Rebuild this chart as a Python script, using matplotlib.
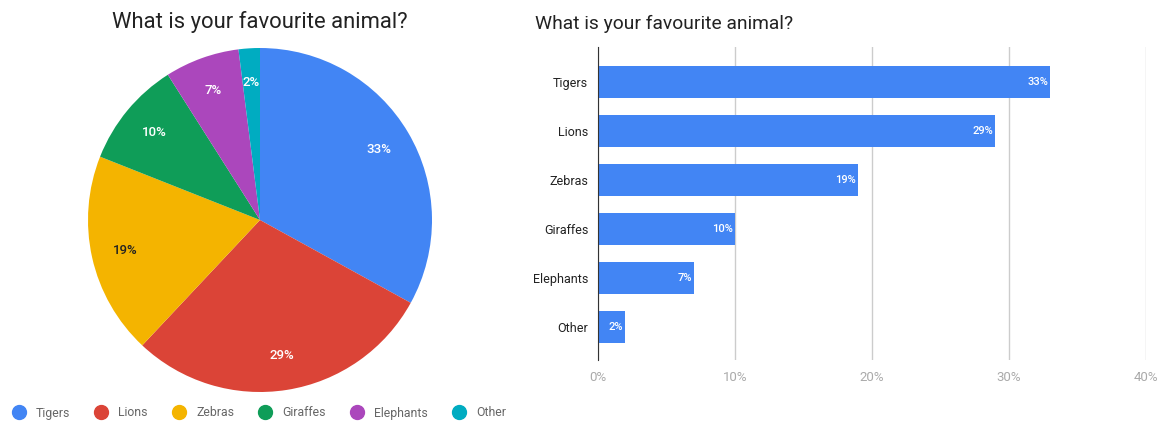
import numpy as np
import matplotlib.pyplot as plt
from matplotlib.lines import Line2D

# survey results
animals = ["Tigers", "Lions", "Zebras", "Giraffes", "Elephants", "Other"]
shares = [33, 29, 19, 10, 7, 2]
colors = ["#4285F4", "#DB4437", "#F4B400", "#0F9D58", "#AB47BC", "#00ACC1"]
xticks = [0, 10, 20, 30, 40]

plt.rcParams["font.family"] = ["Roboto", "DejaVu Sans"]

fig = plt.figure(figsize=(11.6, 4.21), dpi=100)

# %% pie on the left
ax1 = fig.add_axes([88 / 1160, 29 / 421, 344 / 1160, 344 / 421])
wedges, _ = ax1.pie(shares, colors=colors, startangle=90, counterclock=False,
                    wedgeprops=dict(linewidth=0))
for w, s, c in zip(wedges, shares, colors):
    ang = np.deg2rad((w.theta1 + w.theta2) / 2)
    tc = "#222222" if c == "#F4B400" else "white"
    ax1.text(0.8 * np.cos(ang), 0.8 * np.sin(ang), f"{s}%", ha="center",
             va="center", fontsize=9.5, color=tc, fontweight="medium")
ax1.set_xlim(-1, 1)
ax1.set_ylim(-1, 1)
fig.text(260 / 1160, 1 - 22 / 421, "What is your favourite animal?", ha="center",
         va="center", fontsize=15.8, color="#222222")

handles = [Line2D([], [], marker="o", linestyle="", markersize=10, color=c)
           for c in colors]
fig.legend(handles, animals, loc="center left", bbox_to_anchor=(0.0035, 1 - 413 / 421),
           ncol=6, frameon=False, fontsize=8.8, labelcolor="#666666",
           handletextpad=0.9, columnspacing=2.05, handlelength=1.0, borderpad=0.2)

# %% bars on the right
ax2 = fig.add_axes([598 / 1160, 61 / 421, 548 / 1160, 313 / 421])
ypos = list(range(len(animals)))
ax2.barh(ypos, shares, height=0.65, color="#4285F4")
for y, s in zip(ypos, shares):
    ax2.text(s - 0.15, y, f"{s}%", ha="right", va="center", fontsize=8,
             color="white", fontweight="medium")
ax2.set_ylim(5.68, -0.72)
ax2.set_xlim(0, 40)
ax2.set_yticks(ypos)
ax2.set_yticklabels(animals, fontsize=9, color="#222222")
ax2.set_xticks(xticks)
ax2.set_xticklabels([f"{t}%" for t in xticks], fontsize=9.5, color="#aaaaaa")
ax2.tick_params(axis="y", length=0, pad=7)
ax2.tick_params(axis="x", length=0, pad=8)
ax2.xaxis.grid(True, color="#cccccc", linewidth=1)
ax2.set_axisbelow(True)
for sp in ["top", "right", "bottom"]:
    ax2.spines[sp].set_visible(False)
ax2.spines["left"].set_color("#333333")
ax2.spines["left"].set_zorder(3)
fig.text(535 / 1160, 1 - 24 / 421, "What is your favourite animal?", ha="left",
         va="center", fontsize=13.9, color="#222222")

fig.savefig("out.png", dpi=100, facecolor="white")
